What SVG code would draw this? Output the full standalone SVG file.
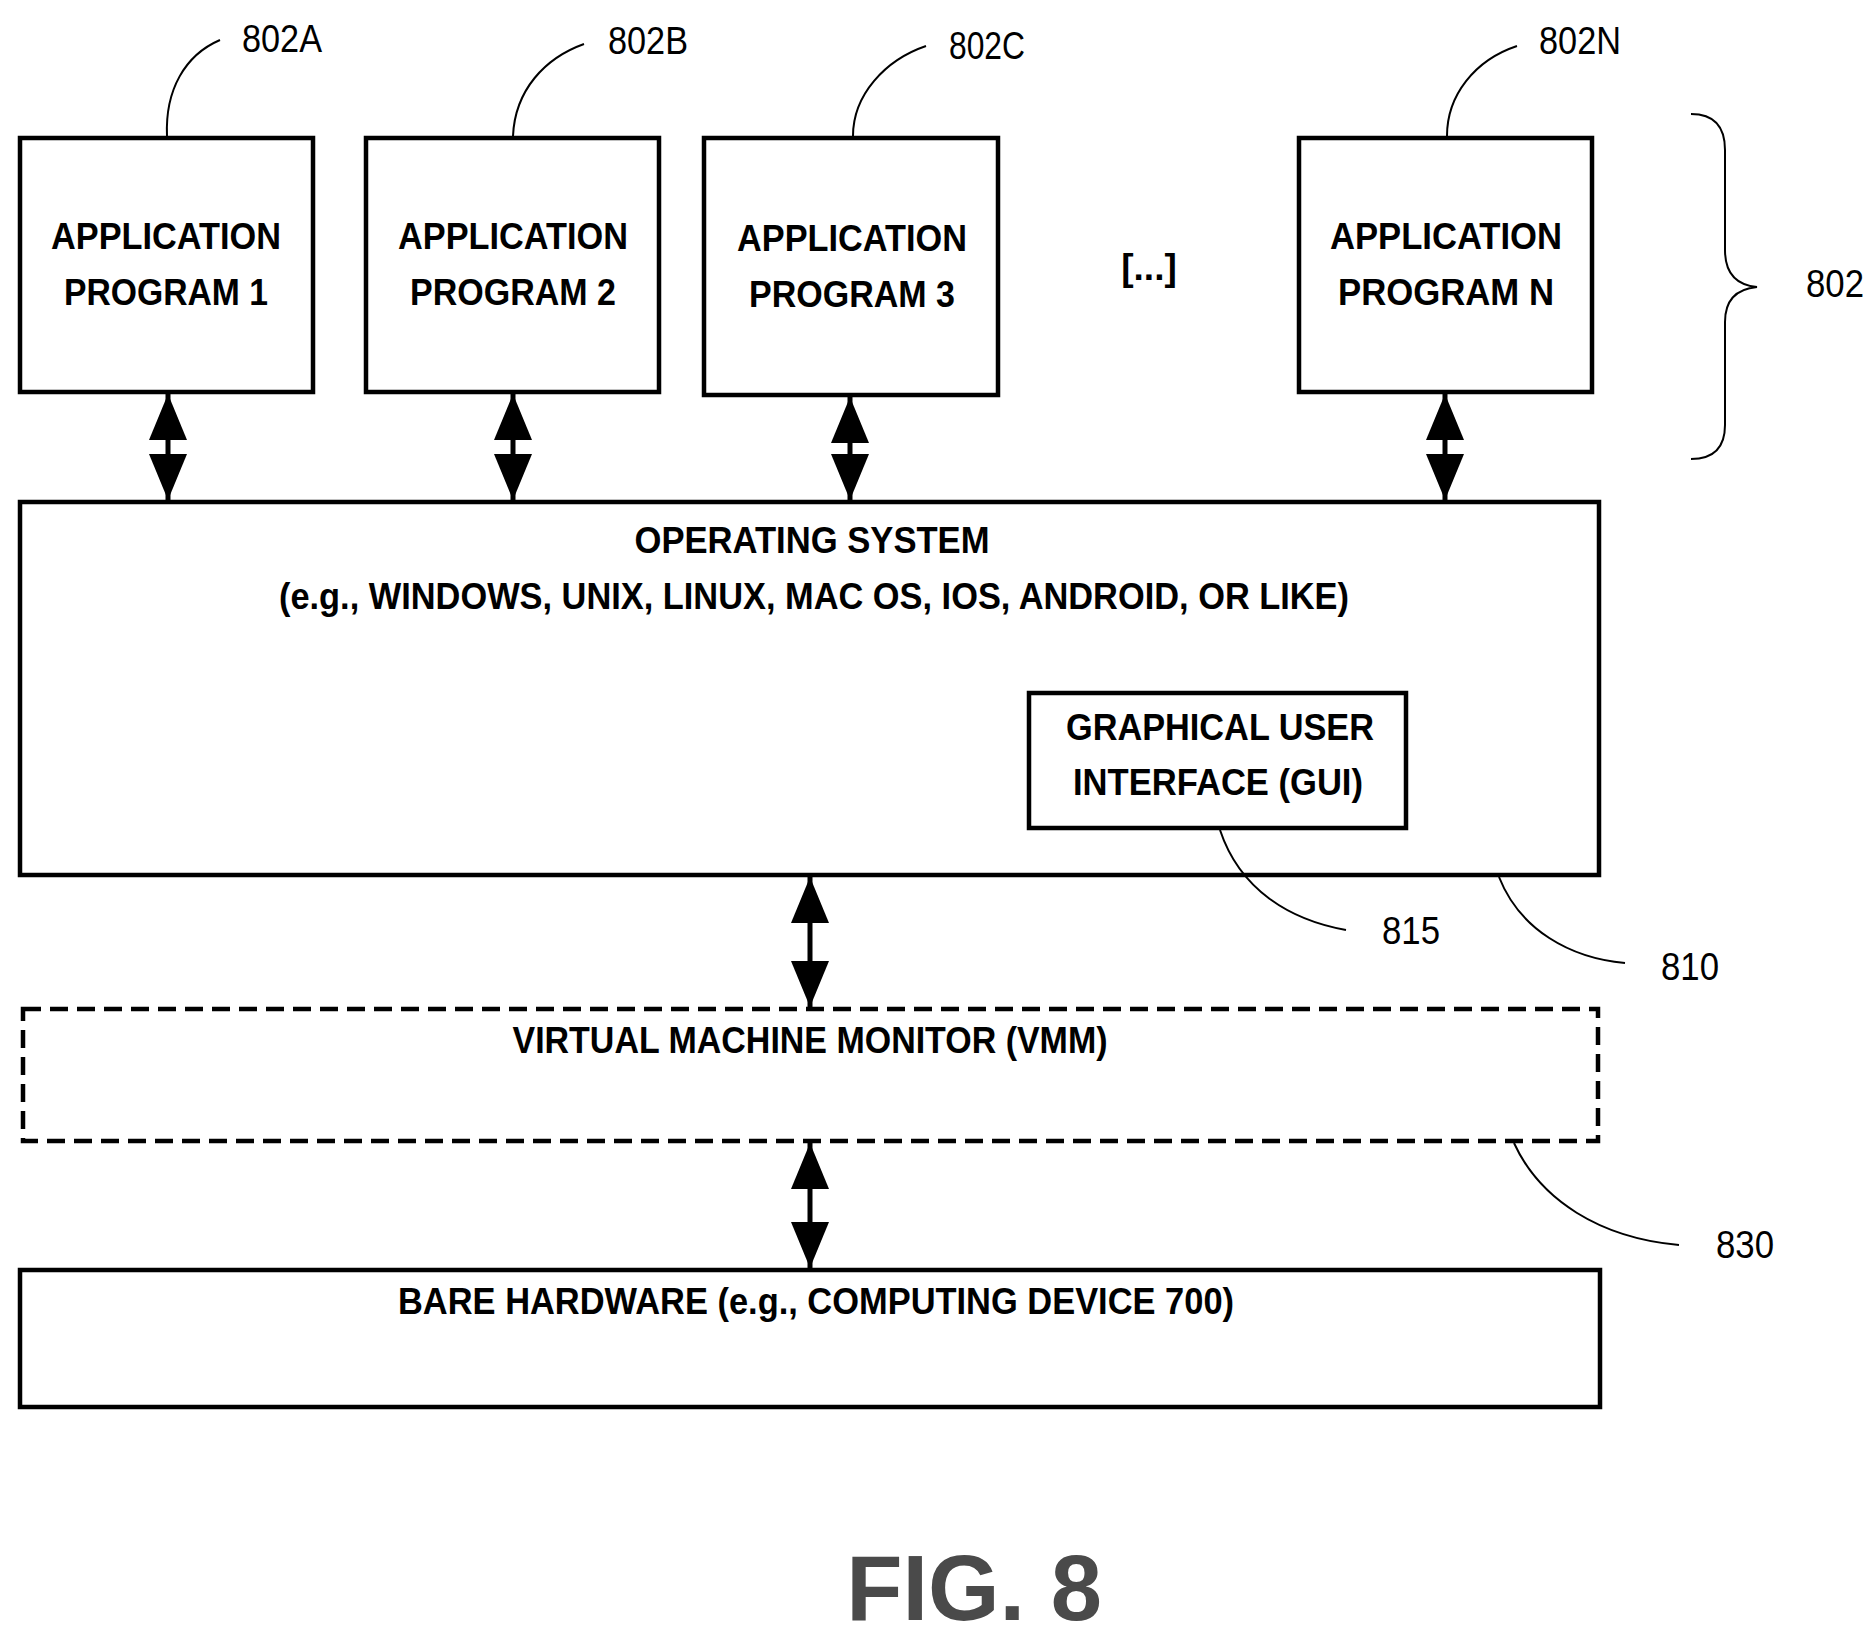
<svg xmlns="http://www.w3.org/2000/svg" width="1875" height="1642" viewBox="0 0 1875 1642">
<style>
.box{fill:#fff;stroke:#000;stroke-width:4.5}
.dash{fill:none;stroke:#000;stroke-width:4.5;stroke-dasharray:18,9}
.t{font-family:"Liberation Sans",Arial,sans-serif;font-weight:bold;font-size:37px;text-anchor:middle;fill:#000}
.lbl{font-family:"Liberation Sans",Arial,sans-serif;font-size:38px;fill:#000}
.lead{fill:none;stroke:#000;stroke-width:2}
.arr{stroke:#000;stroke-width:5;marker-start:url(#ah);marker-end:url(#ah)}
</style>
<defs>
<marker id="ah" markerUnits="userSpaceOnUse" markerWidth="48" markerHeight="40" refX="46" refY="20" orient="auto-start-reverse">
<path d="M0,1 L46,20 L0,39 Z" fill="#000"/>
</marker>
</defs>
<g id="app1"><rect class="box" x="20" y="138" width="293" height="254"/>
<text class="t" x="166" y="249" textLength="230" lengthAdjust="spacingAndGlyphs">APPLICATION</text>
<text class="t" x="166" y="305" textLength="204" lengthAdjust="spacingAndGlyphs">PROGRAM 1</text>
<text class="lbl" x="242" y="52" textLength="80" lengthAdjust="spacingAndGlyphs">802A</text></g>
<g id="app2"><rect class="box" x="366" y="138" width="293" height="254"/>
<text class="t" x="513" y="249" textLength="230" lengthAdjust="spacingAndGlyphs">APPLICATION</text>
<text class="t" x="513" y="305" textLength="206" lengthAdjust="spacingAndGlyphs">PROGRAM 2</text>
<text class="lbl" x="608" y="54" textLength="80" lengthAdjust="spacingAndGlyphs">802B</text></g>
<g id="app3"><rect class="box" x="704" y="138" width="294" height="257"/>
<text class="t" x="852" y="251" textLength="230" lengthAdjust="spacingAndGlyphs">APPLICATION</text>
<text class="t" x="852" y="307" textLength="206" lengthAdjust="spacingAndGlyphs">PROGRAM 3</text>
<text class="lbl" x="949" y="59" textLength="76" lengthAdjust="spacingAndGlyphs">802C</text></g>
<g id="ellipsis"><text class="t" x="1149" y="280">[...]</text></g>
<g id="appN"><rect class="box" x="1299" y="138" width="293" height="254"/>
<text class="t" x="1446" y="249" textLength="232" lengthAdjust="spacingAndGlyphs">APPLICATION</text>
<text class="t" x="1446" y="305" textLength="216" lengthAdjust="spacingAndGlyphs">PROGRAM N</text>
<text class="lbl" x="1539" y="54" textLength="82" lengthAdjust="spacingAndGlyphs">802N</text></g>
<g id="group802"><text class="lbl" x="1806" y="297" textLength="58" lengthAdjust="spacingAndGlyphs">802</text></g>
<g id="os"><rect class="box" x="20" y="502" width="1579" height="373"/>
<text class="t" x="812" y="553" textLength="355" lengthAdjust="spacingAndGlyphs">OPERATING SYSTEM</text>
<text class="t" x="814" y="609" textLength="1070" lengthAdjust="spacingAndGlyphs">(e.g., WINDOWS, UNIX, LINUX, MAC OS, IOS, ANDROID, OR LIKE)</text>
<text class="lbl" x="1661" y="980" textLength="58" lengthAdjust="spacingAndGlyphs">810</text></g>
<g id="gui"><rect class="box" x="1029" y="693" width="377" height="135"/>
<text class="t" x="1220" y="740" textLength="308" lengthAdjust="spacingAndGlyphs">GRAPHICAL USER</text>
<text class="t" x="1218" y="795" textLength="290" lengthAdjust="spacingAndGlyphs">INTERFACE (GUI)</text>
<text class="lbl" x="1382" y="944" textLength="58" lengthAdjust="spacingAndGlyphs">815</text></g>
<g id="vmm"><rect class="dash" x="23" y="1009" width="1575" height="132"/>
<text class="t" x="810" y="1053" textLength="595" lengthAdjust="spacingAndGlyphs">VIRTUAL MACHINE MONITOR (VMM)</text>
<text class="lbl" x="1716" y="1258" textLength="58" lengthAdjust="spacingAndGlyphs">830</text></g>
<g id="hw"><rect class="box" x="20" y="1270" width="1580" height="137"/>
<text class="t" x="816" y="1314" textLength="836" lengthAdjust="spacingAndGlyphs">BARE HARDWARE (e.g., COMPUTING DEVICE 700)</text></g>
<g id="fig"><text x="974" y="1620" style="font-family:'Liberation Sans',Arial,sans-serif;font-weight:bold;font-size:92px;text-anchor:middle;fill:#4a4a4a">FIG. 8</text></g>
<g id="connectors">
<line class="arr" x1="168" y1="394" x2="168" y2="500"/>
<line class="arr" x1="513" y1="394" x2="513" y2="500"/>
<line class="arr" x1="850" y1="397" x2="850" y2="500"/>
<line class="arr" x1="1445" y1="394" x2="1445" y2="500"/>
<line class="arr" x1="810" y1="877" x2="810" y2="1007"/>
<line class="arr" x1="810" y1="1143" x2="810" y2="1268"/>
<path class="lead" d="M167,136 C165,90 185,55 220,40"/>
<path class="lead" d="M513,136 C515,90 545,58 584,44"/>
<path class="lead" d="M853,136 C853,95 885,60 926,46"/>
<path class="lead" d="M1447,136 C1447,95 1475,60 1517,46"/>
<path class="lead" d="M1220,830 C1240,890 1290,920 1346,930"/>
<path class="lead" d="M1499,877 C1520,930 1570,958 1625,963"/>
<path class="lead" d="M1514,1143 C1540,1200 1600,1238 1679,1245"/>
<path class="lead" d="M1691,114 Q1725,114 1725,150 L1725,250 Q1725,284 1757,287 Q1725,290 1725,322 L1725,425 Q1725,459 1691,459"/>
</g>
</svg>
